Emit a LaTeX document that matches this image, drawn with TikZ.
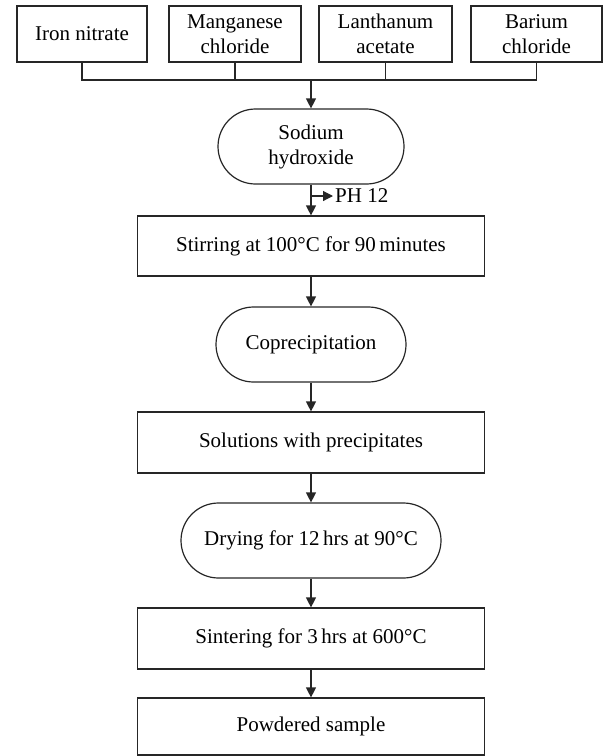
\documentclass[tikz,border=0pt]{standalone}
\usepackage{fontspec}
\setmainfont{Liberation Serif}
\usetikzlibrary{arrows.meta}
\begin{document}
\begin{tikzpicture}[x=1pt,y=-1pt,
  every node/.style={font=\fontsize{21}{25}\selectfont, align=center, inner sep=0pt},
  ln/.style={line width=1.2pt, draw=black!85},
  arr/.style={ln, -{Triangle[width=10pt,length=10pt]}},
  topbox/.style={ln, draw, minimum height=56pt},
  stepbox/.style={ln, draw, minimum width=347pt, minimum height=60pt},
  pill/.style={ln, draw, rounded corners=37.5pt, minimum height=75pt}]
\useasboundingbox (0,0) rectangle (603,756);
% top boxes
\node[topbox, minimum width=130pt] (b1) at (82,34) {Iron nitrate};
\node[topbox, minimum width=132pt] (b2) at (235,34) {Manganese\\chloride};
\node[topbox, minimum width=133pt] (b3) at (385.5,34) {Lanthanum\\acetate};
\node[topbox, minimum width=131pt] (b4) at (536.5,34) {Barium\\chloride};
\coordinate (bus) at (311,80);
% main chain
\node[pill, minimum width=186pt] (naoh) at (311,146.5) {Sodium\\hydroxide};
\node[stepbox] (stir) at (311,246) {Stirring at 100°C for 90\,minutes};
\node[pill, minimum width=190pt] (copr) at (311,344.5) {Coprecipitation};
\node[stepbox, minimum height=61pt] (sol) at (311,442.5) {Solutions with precipitates};
\node[pill, minimum width=260pt] (dry) at (311,540.5) {Drying for 12\,hrs at 90°C};
\node[stepbox, minimum height=61pt] (sint) at (311,638.5) {Sintering for 3\,hrs at 600°C};
\node[stepbox, minimum height=57pt] (pow) at (311,726.5) {Powdered sample};
\node[anchor=west] (ph) at (335,196) {PH 12};
\coordinate (phs) at (311,196);
% connectors
\draw[ln] (b1.south) |- (bus);
\draw[ln] (b4.south) |- (bus);
\draw[ln] (b2.south) -- (b2.south |- bus);
\draw[ln] (b3.south) -- (b3.south |- bus);
\draw[arr] (bus) -- (naoh.north);
\draw[arr] (naoh.south) -- (stir.north);
\draw[arr, shorten >=2pt] (phs) -- (ph.west);
\draw[arr] (stir.south) -- (copr.north);
\draw[arr] (copr.south) -- (sol.north);
\draw[arr] (sol.south) -- (dry.north);
\draw[arr] (dry.south) -- (sint.north);
\draw[arr] (sint.south) -- (pow.north);
\end{tikzpicture}
\end{document}
